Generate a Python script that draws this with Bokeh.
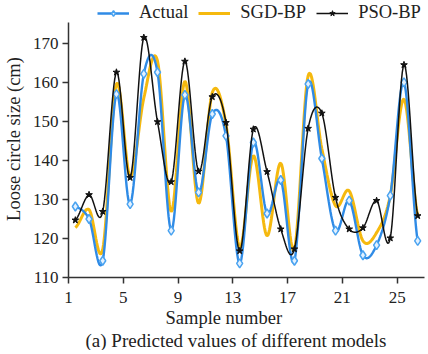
import numpy as np
from bokeh.plotting import figure
from bokeh.models import (ColumnDataSource, FixedTicker, Legend, LegendItem,
                          Range1d, Title)
from bokeh.embed import file_html
from bokeh.resources import INLINE

# ---- data ----
samples = list(range(1, 27))
actual = [128.2, 125.0, 114.3, 157.0, 128.8, 162.2, 162.6, 122.0, 156.8, 131.8,
          151.9, 146.3, 113.6, 144.6, 126.4, 135.0, 114.3, 159.6, 140.5, 122.0,
          129.7, 115.7, 118.3, 131.0, 160.0, 119.4]
sgd_bp = [122.8, 127.4, 117.2, 159.6, 135.8, 156.0, 165.5, 126.9, 160.3, 129.0,
          157.4, 149.3, 117.7, 141.2, 120.7, 139.3, 117.3, 161.7, 143.0, 128.4,
          132.2, 119.4, 121.5, 131.0, 155.7, 125.8]
pso_bp = [124.7, 131.2, 126.9, 162.6, 135.6, 171.5, 149.9, 134.5, 165.4, 137.2,
          156.3, 149.7, 116.8, 148.0, 137.1, 122.4, 117.3, 148.2, 152.1, 130.5,
          122.4, 122.7, 129.7, 120.1, 164.5, 125.8]
x_ticks = [1, 5, 9, 13, 17, 21, 25]
y_ticks = [110, 120, 130, 140, 150, 160, 170]

xpos = [s + 0.5 for s in samples]   # samples sit between integer grid values

FONT = "Liberation Serif"
BLUE = "#2f8be6"
YELLOW = "#f5b90f"
BLACK = "#111111"


def smooth(xs, ys, n=16):
    """Catmull-Rom curve drawn through the read points (rendering only)."""
    xs = np.asarray(xs, float)
    ys = np.asarray(ys, float)
    px = np.concatenate([[2 * xs[0] - xs[1]], xs, [2 * xs[-1] - xs[-2]]])
    py = np.concatenate([[ys[0]], ys, [ys[-1]]])
    ox, oy = [], []
    t = np.linspace(0, 1, n, endpoint=False)
    for i in range(1, len(px) - 2):
        for arr, out in ((px, ox), (py, oy)):
            p0, p1, p2, p3 = arr[i - 1], arr[i], arr[i + 1], arr[i + 2]
            out.extend(0.5 * ((2 * p1) + (-p0 + p2) * t
                              + (2 * p0 - 5 * p1 + 4 * p2 - p3) * t ** 2
                              + (-p0 + 3 * p1 - 3 * p2 + p3) * t ** 3))
    ox.append(xs[-1])
    oy.append(ys[-1])
    return ox, oy


FRAME_H = 277
p = figure(frame_width=360, frame_height=FRAME_H, output_backend="svg",
           toolbar_location=None,
           x_range=Range1d(1, 27.29), y_range=Range1d(110, 181.0),
           min_border_left=60, min_border_right=0, min_border_top=0,
           min_border_bottom=0)
p.outline_line_color = None
p.grid.visible = False
p.background_fill_color = "white"

src_pts = ColumnDataSource(dict(x=xpos, actual=actual, sgd=sgd_bp, pso=pso_bp))

sx, sy = smooth(xpos, sgd_bp)
r_sgd = p.line(sx, sy, line_color=YELLOW, line_width=3)

bx, by = smooth(xpos, actual)
r_act_l = p.line(bx, by, line_color=BLUE, line_width=2.4)
r_act_m = p.scatter("x", "actual", source=src_pts, marker="diamond", size=9,
                    line_color="#4aa3f0", fill_color="#e3f1ff", line_width=1.5)

kx, ky = smooth(xpos, pso_bp)
r_pso_l = p.line(kx, ky, line_color=BLACK, line_width=1.5)
r_pso_m = p.scatter("x", "pso", source=src_pts, marker="star", size=7,
                    line_color=BLACK, fill_color=BLACK)

# axes
p.xaxis.ticker = FixedTicker(ticks=x_ticks)
p.yaxis.ticker = FixedTicker(ticks=y_ticks)
p.yaxis.bounds = (110, 175.3)
p.xaxis.bounds = (1, 27)
for ax in (p.xaxis, p.yaxis):
    ax.major_tick_in = 0
    ax.major_tick_out = 6
    ax.minor_tick_line_color = None
    ax.axis_line_color = "#333333"
    ax.major_tick_line_color = "#333333"
    ax.axis_line_width = 1.5
    ax.major_tick_line_width = 1.5
    ax.major_label_text_font = FONT
    ax.major_label_text_font_size = "17px"
    ax.major_label_text_color = "#222222"
    ax.axis_label_text_font = FONT
    ax.axis_label_text_font_style = "normal"
    ax.axis_label_text_font_size = "18.5px"
    ax.axis_label_text_color = "#222222"
p.yaxis.axis_label = "Loose circle size (cm)"
p.yaxis.axis_label_standoff = 6
p.yaxis.major_label_standoff = 4
p.xaxis.major_label_standoff = 8

t1 = Title(text="Sample number", align="left", offset=97,
           text_font=FONT, text_font_size="18.5px", text_font_style="normal",
           text_color="#222222", standoff=0)
t2 = Title(text="(a) Predicted values of different models", align="left",
           offset=17, text_font=FONT, text_font_size="19px",
           text_font_style="normal", text_color="#222222", standoff=0)
p.add_layout(t1, "below")
p.add_layout(t2, "below")

legend = Legend(items=[
    LegendItem(label="Actual", renderers=[r_act_l, r_act_m]),
    LegendItem(label="SGD-BP", renderers=[r_sgd]),
    LegendItem(label="PSO-BP", renderers=[r_pso_l, r_pso_m]),
], orientation="horizontal", location=(29, FRAME_H - 23))
legend.label_text_font = FONT
legend.label_text_font_size = "18.5px"
legend.label_text_color = "#222222"
legend.glyph_width = 32
legend.glyph_height = 14
legend.label_height = 14
legend.label_standoff = 10
legend.spacing = 10
legend.padding = 0
legend.margin = 0
legend.border_line_color = None
legend.background_fill_alpha = 0
p.add_layout(legend, "center")

open("out.html", "w").write(file_html(p, INLINE))
